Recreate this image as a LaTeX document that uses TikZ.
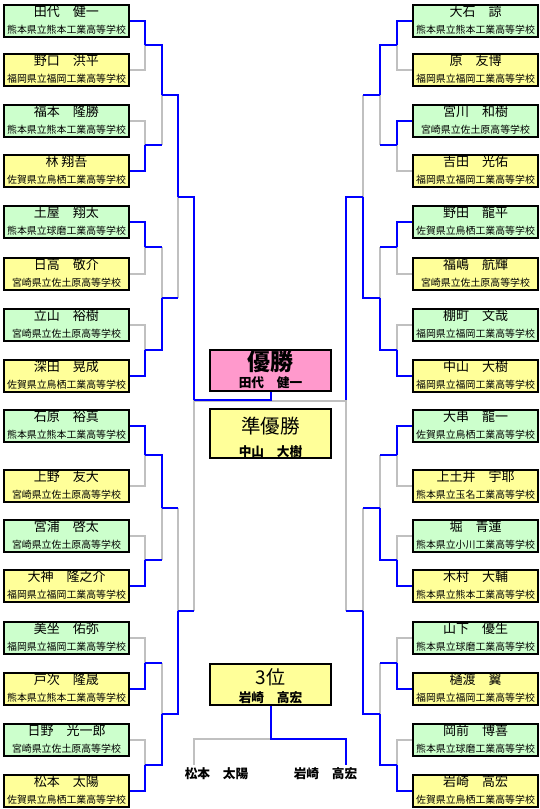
\documentclass[tikz,border=0pt]{standalone}
\usepackage{fontspec}
\setmainfont{Noto Sans CJK JP}
\usetikzlibrary{calc}
\definecolor{pgreen}{HTML}{CCFFCC}
\definecolor{pyellow}{HTML}{FFFF99}
\definecolor{ppink}{HTML}{FF99CC}
\definecolor{lgray}{HTML}{C0C0C0}
\definecolor{lblue}{HTML}{0000FF}
\tikzset{
  pbx/.style={draw=black, line width=2pt, rectangle, minimum width=125.5pt, minimum height=32.5pt, inner sep=0pt, anchor=north west},
  cbx/.style={draw=black, line width=2pt, rectangle, minimum width=121.5pt, inner sep=0pt},
  nmtxt/.style={font=\fontsize{13}{13}\selectfont, inner sep=0pt, anchor=base},
  sctxt/.style={font=\fontsize{9.9}{10}\selectfont, inner sep=0pt, anchor=base},
  bname/.style={font=\fontsize{12.7}{13}\selectfont\bfseries, inner sep=0pt, anchor=base},
  wn/.style={draw=lblue, line width=2pt},
  ls/.style={draw=lgray, line width=2pt}
}
\newcommand\pbox[6]{%
  \node[pbx, fill=#4] (#1) at (#2,#3) {};
  \node[nmtxt] (#1n) at ([yshift=-13.2pt]#1.north) {#5};
  \node[sctxt] (#1s) at ([yshift=-29.4pt]#1.north) {#6};
}
\newcommand\adv[2]{\draw[wn] (#1) -| (#2);}
\newcommand\reach[2]{\draw[wn] (#1) -- (#1 -| #2);}
\newcommand\lost[2]{\draw[ls] (#1 -| #2) -- (#2);}
\begin{document}
\begin{tikzpicture}[x=1pt, y=-1pt]
\fill[white] (0,0) rectangle (540,809);
\useasboundingbox (0,0) rectangle (540,809);

% ---------- left boxes ----------
\pbox{L1}{2.75}{3.75}{pgreen}{田代　健一}{熊本県立熊本工業高等学校}
\pbox{L2}{2.75}{52.75}{pyellow}{野口　洪平}{福岡県立福岡工業高等学校}
\pbox{L3}{2.75}{103.75}{pgreen}{福本　隆勝}{熊本県立熊本工業高等学校}
\pbox{L4}{2.75}{153.75}{pyellow}{林 翔吾}{佐賀県立鳥栖工業高等学校}
\pbox{L5}{2.75}{204.75}{pgreen}{土屋　翔太}{熊本県立球磨工業高等学校}
\pbox{L6}{2.75}{256.75}{pyellow}{日高　敬介}{宮崎県立佐土原高等学校}
\pbox{L7}{2.75}{307.75}{pgreen}{立山　裕樹}{宮崎県立佐土原高等学校}
\pbox{L8}{2.75}{358.75}{pyellow}{深田　晃成}{佐賀県立鳥栖工業高等学校}
\pbox{L9}{2.75}{408.75}{pgreen}{石原　裕真}{熊本県立熊本工業高等学校}
\pbox{L10}{2.75}{468.75}{pyellow}{上野　友大}{宮崎県立佐土原高等学校}
\pbox{L11}{2.75}{518.75}{pgreen}{宮浦　啓太}{宮崎県立佐土原高等学校}
\pbox{L12}{2.75}{568.75}{pyellow}{大神　隆之介}{福岡県立福岡工業高等学校}
\pbox{L13}{2.75}{620.75}{pgreen}{美坐　佑弥}{福岡県立福岡工業高等学校}
\pbox{L14}{2.75}{671.75}{pyellow}{戸次　隆晟}{熊本県立熊本工業高等学校}
\pbox{L15}{2.75}{722.75}{pgreen}{日野　光一郎}{宮崎県立佐土原高等学校}
\pbox{L16}{2.75}{773.75}{pyellow}{松本　太陽}{佐賀県立鳥栖工業高等学校}

% ---------- right boxes ----------
\pbox{R1}{411.75}{3.75}{pgreen}{大石　諒}{熊本県立熊本工業高等学校}
\pbox{R2}{411.75}{52.75}{pyellow}{原　友博}{福岡県立福岡工業高等学校}
\pbox{R3}{411.75}{103.75}{pgreen}{宮川　和樹}{宮崎県立佐土原高等学校}
\pbox{R4}{411.75}{153.75}{pyellow}{吉田　光佑}{福岡県立福岡工業高等学校}
\pbox{R5}{411.75}{204.75}{pgreen}{野田　龍平}{佐賀県立鳥栖工業高等学校}
\pbox{R6}{411.75}{256.75}{pyellow}{福嶋　航輝}{宮崎県立佐土原高等学校}
\pbox{R7}{411.75}{307.75}{pgreen}{棚町　文哉}{福岡県立福岡工業高等学校}
\pbox{R8}{411.75}{358.75}{pyellow}{中山　大樹}{福岡県立福岡工業高等学校}
\pbox{R9}{411.75}{408.75}{pgreen}{大串　龍一}{佐賀県立鳥栖工業高等学校}
\pbox{R10}{411.75}{468.75}{pyellow}{上土井　宇耶}{熊本県立玉名工業高等学校}
\pbox{R11}{411.75}{518.75}{pgreen}{堀　青蓮}{熊本県立小川工業高等学校}
\pbox{R12}{411.75}{568.75}{pyellow}{木村　大輔}{熊本県立熊本工業高等学校}
\pbox{R13}{411.75}{620.75}{pgreen}{山下　優生}{熊本県立球磨工業高等学校}
\pbox{R14}{411.75}{671.75}{pyellow}{樋渡　翼}{福岡県立福岡工業高等学校}
\pbox{R15}{411.75}{722.75}{pgreen}{岡前　博喜}{熊本県立球磨工業高等学校}
\pbox{R16}{411.75}{773.75}{pyellow}{岩崎　高宏}{佐賀県立鳥栖工業高等学校}

% ---------- centre boxes ----------
\node[cbx, fill=ppink, minimum height=41.5pt] (W1) at (270.5,370.5) {};
\node[font=\fontsize{23}{23}\selectfont\bfseries, inner sep=0pt, anchor=base] (W1a) at (270.5,370.8) {優勝};
\node[bname] (W1b) at (270.5,387.6) {田代　健一};
\node[cbx, fill=pyellow, minimum height=49.5pt] (W2) at (270.5,433.5) {};
\node[font=\fontsize{19.5}{20}\selectfont, inner sep=0pt, anchor=base] (W2a) at (270.5,433.6) {準優勝};
\node[bname] (W2b) at (270.5,456.6) {中山　大樹};
\node[cbx, fill=pyellow, minimum height=41.5pt] (W3) at (270.5,684.5) {};
\node[font=\fontsize{19}{19}\selectfont, inner sep=0pt, anchor=base] (W3a) at (270.5,684.2) {3位};
\node[bname] (W3b) at (270.5,702.6) {岩崎　高宏};
\node[bname] (T1) at (216.5,778.6) {松本　太陽};
\node[bname] (T2) at (325.5,778.6) {岩崎　高宏};

% ---------- junction coordinates ----------
\foreach \s/\xa/\xb/\xc/\xd in {L/145/161.5/178/194, R/396.5/380/363/346}{
  \coordinate (j\s1) at (\xa,44.5);
  \coordinate (j\s2) at (\xa,145);
  \coordinate (j\s3) at (\xa,247);
  \coordinate (j\s4) at (\xa,349.5);
  \coordinate (j\s5) at (\xa,455);
  \coordinate (j\s6) at (\xa,560);
  \coordinate (j\s7) at (\xa,662.5);
  \coordinate (j\s8) at (\xa,764.5);
  \coordinate (k\s1) at (\xb,94.75);
  \coordinate (k\s2) at (\xb,298.25);
  \coordinate (k\s3) at (\xb,507.5);
  \coordinate (k\s4) at (\xb,713.5);
  \coordinate (m\s1) at (\xc,196.5);
  \coordinate (m\s2) at (\xc,610.5);
  \coordinate (s\s) at (\xd,400);
}
\coordinate (fin) at (270.5,400);
\coordinate (t3) at (270.5,739);
\coordinate (q1) at (194,765);
\coordinate (q2) at (346,765);

% ---------- gray (lost) lines ----------
\draw[ls] (L2.east) -| (jL1);
\draw[ls] (L3.east) -| (jL2);
\draw[ls] (L6.east) -| (jL3);
\draw[ls] (L7.east) -| (jL4);
\draw[ls] (L10.east) -| (jL5);
\draw[ls] (L11.east) -| (jL6);
\draw[ls] (L13.east) -| (jL7);
\draw[ls] (L15.east) -| (jL8);
\draw[ls] (R2.west) -| (jR1);
\draw[ls] (R4.west) -| (jR2);
\draw[ls] (R6.west) -| (jR3);
\draw[ls] (R7.west) -| (jR4);
\draw[ls] (R10.west) -| (jR5);
\draw[ls] (R11.west) -| (jR6);
\draw[ls] (R13.west) -| (jR7);
\draw[ls] (R15.west) -| (jR8);
\lost{jL2}{kL1} \lost{jL3}{kL2} \lost{jL6}{kL3} \lost{jL7}{kL4}
\lost{jR2}{kR1} \lost{jR3}{kR2} \lost{jR5}{kR3} \lost{jR7}{kR4}
\lost{kL2}{mL1} \lost{kL3}{mL2}
\lost{kR1}{mR1} \lost{kR3}{mR2}
\lost{mL2}{sL} \lost{mR2}{sR}
\draw[ls] ([yshift=-1pt]sL) -- ([yshift=-1pt]sR);
\draw[ls] (t3) -| (q1);

% ---------- blue (won) lines ----------
\draw[wn] (L1.east) -| (jL1);
\draw[wn] (L4.east) -| (jL2);
\draw[wn] (L5.east) -| (jL3);
\draw[wn] (L8.east) -| (jL4);
\draw[wn] (L9.east) -| (jL5);
\draw[wn] (L12.east) -| (jL6);
\draw[wn] (L14.east) -| (jL7);
\draw[wn] (L16.east) -| (jL8);
\draw[wn] (R1.west) -| (jR1);
\draw[wn] (R3.west) -| (jR2);
\draw[wn] (R5.west) -| (jR3);
\draw[wn] (R8.west) -| (jR4);
\draw[wn] (R9.west) -| (jR5);
\draw[wn] (R12.west) -| (jR6);
\draw[wn] (R14.west) -| (jR7);
\draw[wn] (R16.west) -| (jR8);
\adv{jL1}{kL1} \reach{jL2}{kL1}
\adv{jL4}{kL2} \reach{jL3}{kL2}
\adv{jL5}{kL3} \reach{jL6}{kL3}
\adv{jL8}{kL4} \reach{jL7}{kL4}
\adv{jR1}{kR1} \reach{jR2}{kR1}
\adv{jR4}{kR2} \reach{jR3}{kR2}
\adv{jR6}{kR3} \reach{jR5}{kR3}
\adv{jR8}{kR4} \reach{jR7}{kR4}
\adv{kL1}{mL1} \reach{kL2}{mL1}
\adv{kL4}{mL2} \reach{kL3}{mL2}
\adv{kR2}{mR1} \reach{kR1}{mR1}
\adv{kR4}{mR2} \reach{kR3}{mR2}
\adv{mL1}{sL} \reach{mL2}{sL}
\adv{mR1}{sR} \reach{mR2}{sR}
\draw[wn] (sL) -- (fin) -- (W1.south);
\draw[wn] (W3.south) -- (t3) -| (q2);
\end{tikzpicture}
\end{document}
